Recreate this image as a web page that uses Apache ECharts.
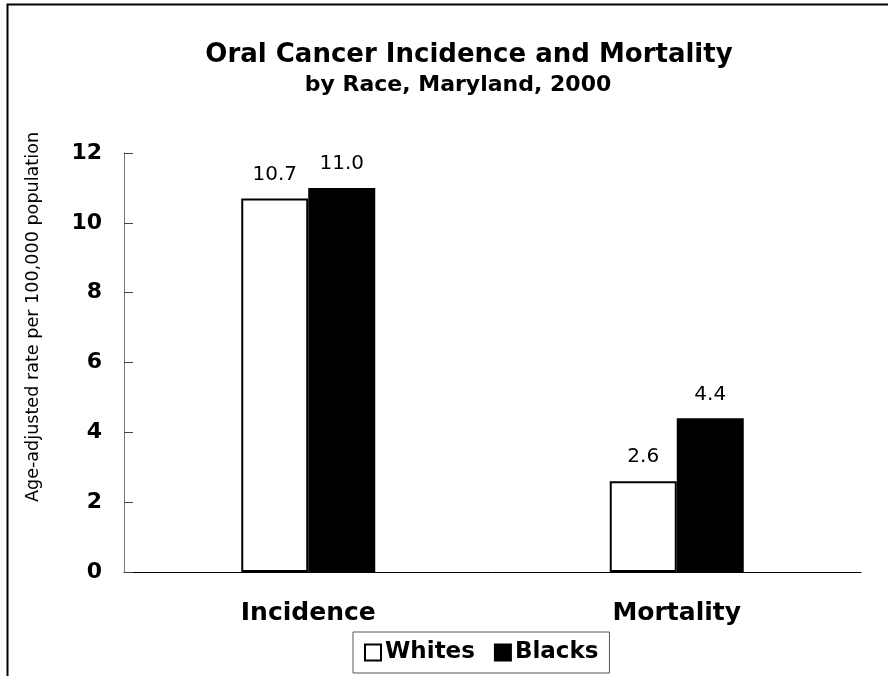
<!DOCTYPE html>
<html>
<head>
<meta charset="utf-8">
<script src="https://cdn.jsdelivr.net/npm/echarts@6/dist/echarts.min.js"></script>
<style>html,body{margin:0;padding:0;background:#fff;}#c{width:888px;height:676px;}</style>
</head>
<body>
<div id="c"></div>
<script>
var categories = ['Incidence', 'Mortality'];
var whites = [10.7, 2.6];
var blacks = [11.0, 4.4];
var seriesNames = ['Whites', 'Blacks'];
var titleText = 'Oral Cancer Incidence and Mortality';
var subtitleText = 'by Race, Maryland, 2000';
var yAxisTitle = 'Age-adjusted rate per 100,000 population';

var FONT = '"DejaVu Sans", sans-serif';
var chart = echarts.init(document.getElementById('c'), null, {renderer: 'canvas'});
var labelOpt = {
  show: true, position: 'top', distance: 14, color: '#000',
  fontFamily: FONT, fontSize: 20,
  formatter: function (p) { return p.value.toFixed(1); }
};
chart.setOption({
  backgroundColor: '#fff',
  animation: false,
  title: [
    {text: titleText, left: 464, top: 37, textAlign: 'center',
     textStyle: {fontFamily: FONT, fontWeight: 'bold', fontSize: 26, color: '#000'}},
    {text: subtitleText, left: 453, top: 69, textAlign: 'center',
     textStyle: {fontFamily: FONT, fontWeight: 'bold', fontSize: 22, color: '#000'}}
  ],
  graphic: [
    {type: 'rect', shape: {x: 7.5, y: 4.5, width: 1000, height: 1000},
     style: {fill: 'none', stroke: '#000', lineWidth: 2}, silent: true},
    {type: 'text', x: 33, y: 317, rotation: Math.PI / 2,
     style: {text: yAxisTitle, fill: '#000', font: '17.6px ' + FONT, textAlign: 'center', textVerticalAlign: 'middle'}}
  ],
  legend: {
    data: seriesNames, left: 353, top: 632,
    orient: 'horizontal', itemWidth: 16, itemHeight: 16, itemGap: 19,
    padding: [9, 11, 9, 11],
    borderColor: '#555', borderWidth: 1, backgroundColor: '#fff',
    icon: 'rect',
    textStyle: {fontFamily: FONT, fontWeight: 'bold', fontSize: 23, color: '#000', padding: [0, 0, 0, -1]}
  },
  grid: {left: 124, right: 27, top: 153, bottom: 104},
  xAxis: {
    type: 'category', data: categories,
    axisLine: {lineStyle: {color: '#000', width: 1}},
    axisTick: {show: false},
    axisLabel: {fontFamily: FONT, fontWeight: 'bold', fontSize: 25, color: '#000', margin: 29}
  },
  yAxis: {
    type: 'value', min: 0, max: 12, interval: 2,
    axisLine: {show: true, lineStyle: {color: '#777', width: 1}},
    axisTick: {show: true, inside: true, length: 9, lineStyle: {color: '#444'}},
    splitLine: {show: false},
    axisLabel: {fontFamily: FONT, fontWeight: 'bold', fontSize: 22, color: '#000', margin: 22}
  },
  series: [
    {name: seriesNames[0], type: 'bar', data: whites, barWidth: 67, barGap: '0%',
     itemStyle: {color: '#fff', borderColor: '#000', borderWidth: 2}, label: labelOpt},
    {name: seriesNames[1], type: 'bar', data: blacks, barWidth: 67, barGap: '0%',
     itemStyle: {color: '#000', borderColor: '#000', borderWidth: 2}, label: labelOpt}
  ]
});
</script>
</body>
</html>
